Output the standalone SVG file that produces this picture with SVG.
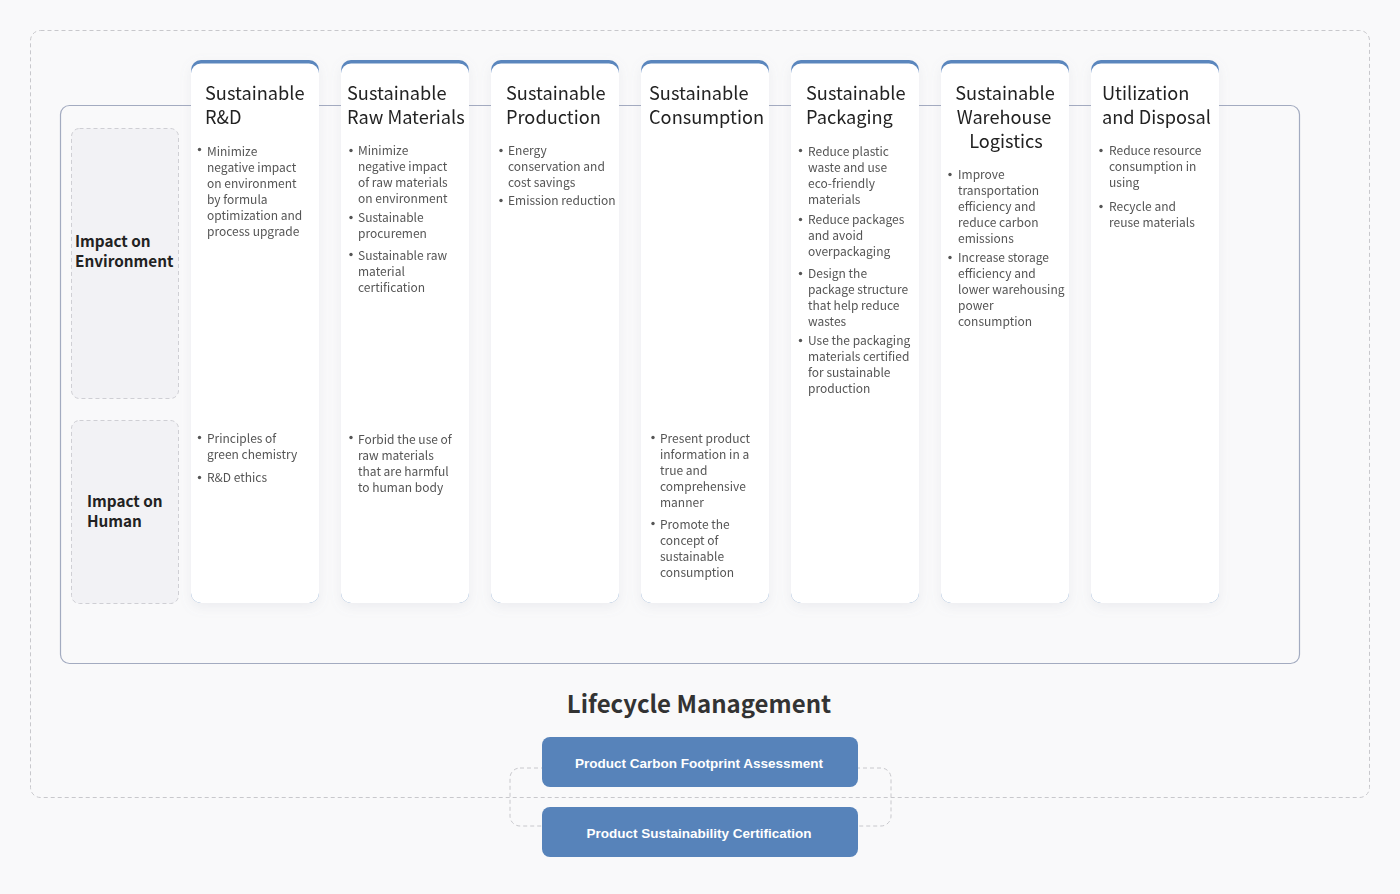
<svg xmlns="http://www.w3.org/2000/svg" width="1400" height="894" viewBox="0 0 1400 894">
<defs>
<filter id="sh" x="-20%" y="-10%" width="140%" height="120%">
<feDropShadow dx="0" dy="4" stdDeviation="6" flood-color="#8890a8" flood-opacity="0.12"/>
</filter>
<style>
.t{font-family:"Noto Sans CJK SC","Noto Sans",sans-serif;font-size:18.2px;fill:#222}
.b{font-family:"Noto Sans CJK SC","Noto Sans",sans-serif;font-size:12px;fill:#555}
.lab{font-family:"Noto Sans CJK SC","Noto Sans",sans-serif;font-size:15.3px;font-weight:700;fill:#222}
.dot{fill:#555}
.top{fill:#5a86bd}
.card{fill:#fff}
.side{fill:#f2f2f5;stroke:#cfcfd4;stroke-dasharray:4 3}
.btn{fill:#5783ba}
.bt{font-family:"Liberation Sans",Arial,sans-serif;font-size:13.5px;font-weight:700;fill:#fff;text-anchor:middle}
</style>
</defs>
<rect width="1400" height="894" fill="#f9f9fa"/>
<rect x="30.5" y="30.5" width="1339" height="767" rx="10" fill="#f9f9fa" stroke="#c8c8cc" stroke-dasharray="4 3"/>
<rect x="60.5" y="105.5" width="1239" height="558" rx="9" fill="none" stroke="#a3abc0" stroke-width="1.2"/>

<g id="connectors">
<rect x="510" y="768" width="381" height="58" rx="10" fill="none" stroke="#c8c8cc" stroke-dasharray="4 3"/>
</g>

<g id="row-env">
<rect class="side" x="71.5" y="128.5" width="107" height="270" rx="8"/>
<text class="lab" x="75" y="247">Impact on</text>
<text class="lab" x="75" y="267">Environment</text>
</g>
<g id="row-human">
<rect class="side" x="71.5" y="420.5" width="107" height="183" rx="8"/>
<text class="lab" x="87" y="507">Impact on</text>
<text class="lab" x="87" y="527">Human</text>
</g>

<g id="card-rd" filter="url(#sh)">
<rect class="top" x="191" y="60" width="128" height="543" rx="10"/>
<rect class="card" x="191" y="63.5" width="128" height="539.5" rx="10"/>
<text class="t" x="205" y="100">Sustainable</text>
<text class="t" x="205" y="124">R&amp;D</text>
<circle class="dot" cx="199.5" cy="149.5" r="1.7"/>
<text class="b" x="207" y="156">Minimize</text>
<text class="b" x="207" y="172">negative impact</text>
<text class="b" x="207" y="188">on environment</text>
<text class="b" x="207" y="204">by formula</text>
<text class="b" x="207" y="220">optimization and</text>
<text class="b" x="207" y="236">process upgrade</text>
<circle class="dot" cx="199.5" cy="437.5" r="1.7"/>
<text class="b" x="207" y="443">Principles of</text>
<text class="b" x="207" y="459">green chemistry</text>
<circle class="dot" cx="199.5" cy="477.5" r="1.7"/>
<text class="b" x="207" y="482">R&amp;D ethics</text>
</g>

<g id="card-raw" filter="url(#sh)">
<rect class="top" x="341" y="60" width="128" height="543" rx="10"/>
<rect class="card" x="341" y="63.5" width="128" height="539.5" rx="10"/>
<text class="t" x="347" y="100">Sustainable</text>
<text class="t" x="347" y="124">Raw Materials</text>
<circle class="dot" cx="351" cy="150.5" r="1.7"/>
<text class="b" x="358" y="155">Minimize</text>
<text class="b" x="358" y="171">negative impact</text>
<text class="b" x="358" y="187">of raw materials</text>
<text class="b" x="358" y="203">on environment</text>
<circle class="dot" cx="351" cy="217.5" r="1.7"/>
<text class="b" x="358" y="222">Sustainable</text>
<text class="b" x="358" y="238">procuremen</text>
<circle class="dot" cx="351" cy="254.5" r="1.7"/>
<text class="b" x="358" y="260">Sustainable raw</text>
<text class="b" x="358" y="276">material</text>
<text class="b" x="358" y="292">certification</text>
<circle class="dot" cx="351" cy="437.5" r="1.7"/>
<text class="b" x="358" y="444">Forbid the use of</text>
<text class="b" x="358" y="460">raw materials</text>
<text class="b" x="358" y="476">that are harmful</text>
<text class="b" x="358" y="492">to human body</text>
</g>

<g id="card-production" filter="url(#sh)">
<rect class="top" x="491" y="60" width="128" height="543" rx="10"/>
<rect class="card" x="491" y="63.5" width="128" height="539.5" rx="10"/>
<text class="t" x="506" y="100">Sustainable</text>
<text class="t" x="506" y="124">Production</text>
<circle class="dot" cx="501" cy="150.5" r="1.7"/>
<text class="b" x="508" y="155">Energy</text>
<text class="b" x="508" y="171">conservation and</text>
<text class="b" x="508" y="187">cost savings</text>
<circle class="dot" cx="501" cy="200.5" r="1.7"/>
<text class="b" x="508" y="205">Emission reduction</text>
</g>

<g id="card-consumption" filter="url(#sh)">
<rect class="top" x="641" y="60" width="128" height="543" rx="10"/>
<rect class="card" x="641" y="63.5" width="128" height="539.5" rx="10"/>
<text class="t" x="649" y="100">Sustainable</text>
<text class="t" x="649" y="124">Consumption</text>
<circle class="dot" cx="653" cy="437.5" r="1.7"/>
<text class="b" x="660" y="443">Present product</text>
<text class="b" x="660" y="459">information in a</text>
<text class="b" x="660" y="475">true and</text>
<text class="b" x="660" y="491">comprehensive</text>
<text class="b" x="660" y="507">manner</text>
<circle class="dot" cx="653" cy="523.5" r="1.7"/>
<text class="b" x="660" y="529">Promote the</text>
<text class="b" x="660" y="545">concept of</text>
<text class="b" x="660" y="561">sustainable</text>
<text class="b" x="660" y="577">consumption</text>
</g>

<g id="card-packaging" filter="url(#sh)">
<rect class="top" x="791" y="60" width="128" height="543" rx="10"/>
<rect class="card" x="791" y="63.5" width="128" height="539.5" rx="10"/>
<text class="t" x="806" y="100">Sustainable</text>
<text class="t" x="806" y="124">Packaging</text>
<circle class="dot" cx="800.5" cy="150.5" r="1.7"/>
<text class="b" x="808" y="156">Reduce plastic</text>
<text class="b" x="808" y="172">waste and use</text>
<text class="b" x="808" y="188">eco-friendly</text>
<text class="b" x="808" y="204">materials</text>
<circle class="dot" cx="800.5" cy="219.5" r="1.7"/>
<text class="b" x="808" y="224">Reduce packages</text>
<text class="b" x="808" y="240">and avoid</text>
<text class="b" x="808" y="256">overpackaging</text>
<circle class="dot" cx="800.5" cy="273.5" r="1.7"/>
<text class="b" x="808" y="278">Design the</text>
<text class="b" x="808" y="294">package structure</text>
<text class="b" x="808" y="310">that help reduce</text>
<text class="b" x="808" y="326">wastes</text>
<circle class="dot" cx="800.5" cy="340.5" r="1.7"/>
<text class="b" x="808" y="345">Use the packaging</text>
<text class="b" x="808" y="361">materials certified</text>
<text class="b" x="808" y="377">for sustainable</text>
<text class="b" x="808" y="393">production</text>
</g>

<g id="card-logistics" filter="url(#sh)">
<rect class="top" x="941" y="60" width="128" height="543" rx="10"/>
<rect class="card" x="941" y="63.5" width="128" height="539.5" rx="10"/>
<text class="t" x="1005" y="100" text-anchor="middle">Sustainable</text>
<text class="t" x="1004" y="124" text-anchor="middle">Warehouse</text>
<text class="t" x="1006" y="148" text-anchor="middle">Logistics</text>
<circle class="dot" cx="950" cy="174.5" r="1.7"/>
<text class="b" x="958" y="179">Improve</text>
<text class="b" x="958" y="195">transportation</text>
<text class="b" x="958" y="211">efficiency and</text>
<text class="b" x="958" y="227">reduce carbon</text>
<text class="b" x="958" y="243">emissions</text>
<circle class="dot" cx="950" cy="257.5" r="1.7"/>
<text class="b" x="958" y="262">Increase storage</text>
<text class="b" x="958" y="278">efficiency and</text>
<text class="b" x="958" y="294">lower warehousing</text>
<text class="b" x="958" y="310">power</text>
<text class="b" x="958" y="326">consumption</text>
</g>

<g id="card-disposal" filter="url(#sh)">
<rect class="top" x="1091" y="60" width="128" height="543" rx="10"/>
<rect class="card" x="1091" y="63.5" width="128" height="539.5" rx="10"/>
<text class="t" x="1102" y="100">Utilization</text>
<text class="t" x="1102" y="124">and Disposal</text>
<circle class="dot" cx="1101" cy="150.5" r="1.7"/>
<text class="b" x="1109" y="155">Reduce resource</text>
<text class="b" x="1109" y="171">consumption in</text>
<text class="b" x="1109" y="187">using</text>
<circle class="dot" cx="1101" cy="206.5" r="1.7"/>
<text class="b" x="1109" y="211">Recycle and</text>
<text class="b" x="1109" y="227">reuse materials</text>
</g>

<g id="title">
<text x="699" y="713" text-anchor="middle" style="font-family:'Noto Sans CJK SC','Noto Sans',sans-serif;font-size:24px;font-weight:700;fill:#333">Lifecycle Management</text>
</g>

<g id="btn-carbon">
<rect class="btn" x="542" y="737" width="316" height="50" rx="8"/>
<text class="bt" x="699" y="767.5">Product Carbon Footprint Assessment</text>
</g>
<g id="btn-cert">
<rect class="btn" x="542" y="807" width="316" height="50" rx="8"/>
<text class="bt" x="699" y="837.5">Product Sustainability Certification</text>
</g>
</svg>
